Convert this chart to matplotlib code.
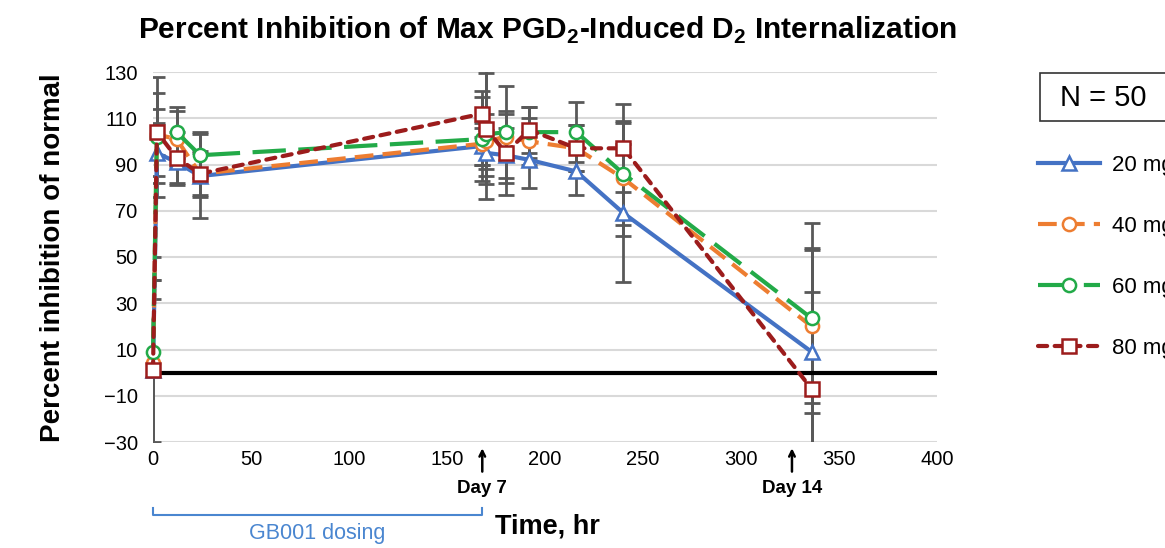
import numpy as np
import matplotlib
matplotlib.use('Agg')
import matplotlib.pyplot as plt
from matplotlib.patches import Rectangle

plt.rcParams['font.family'] = ['Liberation Sans', 'DejaVu Sans']
plt.rcParams['mathtext.fontset'] = 'custom'
plt.rcParams['mathtext.rm'] = 'Liberation Sans'
plt.rcParams['mathtext.bf'] = 'Liberation Sans:bold'

# data
hours = [0, 2, 12, 24, 168, 170, 180, 192, 216, 240, 336]
labels = ['20 mg', '40 mg', '60 mg', '80 mg']
mg20 = [1, 95, 91, 85, 98, 95, 94, 92, 87, 69, 9]
mg40 = [4, 103, 101, 86, 99, 100, 102, 100, 97, 84, 20]
mg60 = [9, 102, 104, 94, 101, 103, 104, 104, 104, 86, 23.5]
mg80 = [1, 104, 93, 86, 112, 105.5, 95, 105, 97, 97, -7]
err20 = [31, 13, 10, 18, 8, 10, 12, 12, 10, 30, 45]
err40 = [36, 18, 12, 10, 9, 12, 10, 10, 10, 25, 33]
err60 = [41, 26, 11, 10, 18, 28, 20, 11, 13, 22, 41]
err80 = [39, 10, 11, 9, 10, 24, 18, 10, 10, 19, 42]
day_marks = [168, 326]
day_labels = ['Day 7', 'Day 14']

series = [mg20, mg40, mg60, mg80]
errors = [err20, err40, err60, err80]
colors = ['#4472C4', '#ED7D31', '#22AA48', '#9C1C1C']
markers = ['^', 'o', 'o', 's']
styles = ['-', (0, (4.5, 2.2)), (0, (8, 3)), (0, (2.2, 1.8))]

fig = plt.figure(figsize=(11.65, 5.48), dpi=100)
ax = fig.add_axes([153 / 1165, 1 - 442 / 548, (937 - 153) / 1165, (442 - 72) / 548])

for i in range(4):
    ax.errorbar(hours, series[i], yerr=errors[i], fmt='none', ecolor='#595959',
                elinewidth=2, capsize=6, capthick=2, zorder=2)

handles = []
for i in range(4):
    ln, = ax.plot(hours, series[i], color=colors[i], linestyle=styles[i], lw=3,
                  marker=markers[i], markersize=10 if markers[i] == '^' else 9.5,
                  markerfacecolor='white', markeredgecolor=colors[i], markeredgewidth=1.8,
                  dash_capstyle='round' if i == 3 else 'butt',
                  zorder=3 + i, clip_on=False, label=labels[i])
    handles.append(ln)

ax.axhline(0, color='black', lw=3, zorder=2.5)

ax.set_xlim(0, 400)
ax.set_ylim(-30, 130)
ax.set_xticks(np.arange(0, 401, 50))
ax.set_yticks(np.arange(-30, 131, 20))
ax.set_yticklabels([str(v).replace('-', '\u2212') for v in range(-30, 131, 20)])
ax.grid(axis='y', color='#d9d9d9', lw=1.5)
ax.set_axisbelow(True)
for s in ax.spines.values():
    s.set_visible(False)
ax.tick_params(axis='both', length=0, labelsize=14.5)
ax.tick_params(axis='y', pad=11)
ax.tick_params(axis='x', pad=6)

fig.text(53 / 1165, 1 - 258 / 548, 'Percent inhibition of normal', rotation=90,
         ha='center', va='center', fontsize=20, fontweight='bold')
fig.text(0.47, 0.945, 'Percent Inhibition of Max PGD$_\\mathbf{2}$-Induced D$_\\mathbf{2}$ Internalization',
         ha='center', va='center', fontsize=21.5, fontweight='bold')

# day arrows under the axis
for d, lab in zip(day_marks, day_labels):
    ax.annotate('', xy=(d, -31.5), xycoords='data', xytext=(d, -44), textcoords='data',
                arrowprops=dict(arrowstyle='->', color='black', lw=1.8), annotation_clip=False)
    ax.text(d, -50, lab, ha='center', va='center', fontsize=13.5, fontweight='bold', clip_on=False)

# dosing bracket
ax.plot([0, 0, 168, 168], [-58.5, -61.5, -61.5, -58.5], color='#4A86D0', lw=1.5, clip_on=False)
ax.text(84, -69.5, 'GB001 dosing', ha='center', va='center', fontsize=15.5, color='#4A86D0',
        clip_on=False)
fig.text(547 / 1165, 1 - 527 / 548, 'Time, hr', ha='center', va='center', fontsize=19.5,
         fontweight='bold')

# N box and legend
fig.add_artist(Rectangle((1040 / 1165, 1 - 121 / 548), 0.2, 48 / 548, transform=fig.transFigure,
                         facecolor='white', edgecolor='#333333', lw=1.2))
fig.text(1060 / 1165, 1 - 98 / 548, 'N = 50', ha='left', va='center', fontsize=21)

ax.legend(handles=handles, loc='upper left', bbox_to_anchor=(1018 / 1165, 1 - 135 / 548),
          bbox_transform=fig.transFigure, frameon=False, fontsize=16, handlelength=2.8,
          labelspacing=1.8, handletextpad=0.55)

fig.savefig('out.png', dpi=100)
